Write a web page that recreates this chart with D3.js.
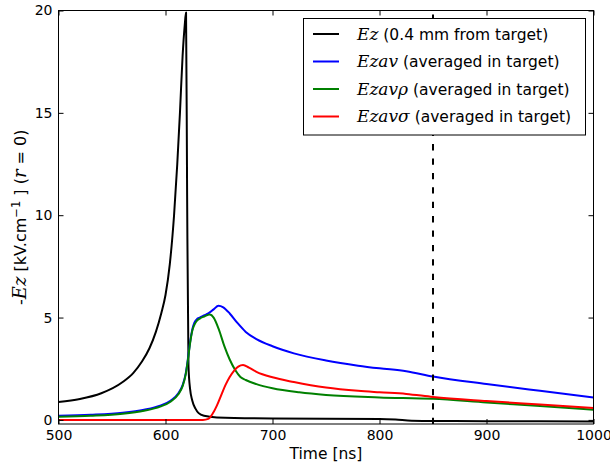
<!DOCTYPE html>
<html>
<head>
<meta charset="utf-8">
<script src="https://cdn.jsdelivr.net/npm/d3@7"></script>
<style>
  html, body { margin: 0; padding: 0; background: #fff; }
  svg { display: block; }
  text { font-family: "DejaVu Sans", sans-serif; fill: #000; }
</style>
</head>
<body>
<svg id="chart" width="610" height="467"></svg>
<script>
// ---- data ----
const ezTime = [500,520,540,560,570,578,585,591,596,600,604,608,611,613.5,616,618,619.2,620.2,621.5,623,625,628,631,636,648,700,800,815,830,850,900,1000];
const ezVals = [0.88,1.02,1.3,1.85,2.3,2.85,3.5,4.3,5.2,6.1,7.6,10.0,12.5,15.0,17.8,19.3,19.9,11,2.6,1.5,0.95,0.55,0.33,0.2,0.12,0.07,0.05,0.02,-0.04,-0.05,-0.06,-0.08];

const ezavTime = [500,530,560,580,595,605,612,616,619,621,623,625,627,629,632,636,640,645,649.5,654,660,667,675,685,700,720,750,780,800,825,850,900,950,1000];
const ezavVals = [0.2,0.25,0.35,0.5,0.7,0.95,1.3,1.7,2.3,3.0,3.8,4.4,4.75,4.9,5.0,5.1,5.2,5.4,5.58,5.5,5.2,4.75,4.3,3.95,3.6,3.25,2.9,2.65,2.52,2.38,2.12,1.75,1.42,1.1];

const ezavRhoTime = [500,530,560,580,595,605,612,616,619,621,623,625,627,629,632,636,641.5,645,650,655,660,665,670,675,685,700,725,750,800,850,900,950,1000];
const ezavRhoVals = [0.15,0.2,0.3,0.45,0.65,0.9,1.25,1.65,2.25,2.95,3.75,4.35,4.65,4.82,4.95,5.05,5.15,5.0,4.4,3.6,2.95,2.45,2.1,1.95,1.75,1.55,1.35,1.22,1.1,1.03,0.85,0.68,0.5];

const ezavSigTime = [500,600,635,640,644,648,652,656,660,664,668,672.5,678,685,700,720,750,780,800,825,850,900,950,1000];
const ezavSigVals = [0,0,0,0.05,0.3,0.7,1.2,1.7,2.1,2.4,2.6,2.68,2.55,2.35,2.08,1.85,1.58,1.42,1.35,1.27,1.12,0.92,0.75,0.58];

const markerTime = 850;

const xTicks = [500,600,700,800,900,1000];
const xTickLabels = ["500","600","700","800","900","1000"];
const yTicks = [0,5,10,15,20];
const yTickLabels = ["0","5","10","15","20"];

const legendMath = ["Ez","Ezav","Ezav\u03c1","Ezav\u03c3"];
const legendText = [" (0.4 mm from target)"," (averaged in target)"," (averaged in target)"," (averaged in target)"];
const seriesColors = ["#000000","#0000ff","#008000","#ff0000"];

// ---- layout ----
const svg = d3.select("#chart");
const L = 58.5, T = 10.5, R = 593.5, B = 424;
const x = d3.scaleLinear().domain([500,1000]).range([L,R]);
const y = d3.scaleLinear().domain([-0.2,20]).range([B,T]);
const mathFont = "DejaVu Serif";

svg.append("defs").append("clipPath").attr("id","clip")
  .append("rect").attr("x",L).attr("y",T).attr("width",R-L).attr("height",B-T);

const series = [
  {t: ezTime, v: ezVals},
  {t: ezavTime, v: ezavVals},
  {t: ezavRhoTime, v: ezavRhoVals},
  {t: ezavSigTime, v: ezavSigVals}
];

const line = d3.line().x(d=>x(d[0])).y(d=>y(d[1])).curve(d3.curveMonotoneX);
const g = svg.append("g").attr("clip-path","url(#clip)");
series.forEach((s,i)=>{
  g.append("path")
    .datum(s.t.map((t,j)=>[t,s.v[j]]))
    .attr("d", line)
    .attr("fill","none")
    .attr("stroke", seriesColors[i])
    .attr("stroke-width", 2)
    .attr("stroke-linejoin","round");
});

// dashed marker line (drawn bottom to top)
g.append("line")
  .attr("x1", x(markerTime)).attr("x2", x(markerTime))
  .attr("y1", B).attr("y2", T)
  .attr("stroke","#000").attr("stroke-width",2)
  .attr("stroke-dasharray","6.3,8.1");

// axes
const xAxis = d3.axisBottom(x).tickValues(xTicks).tickFormat((d,i)=>xTickLabels[i]).tickSize(-5).tickPadding(6);
const xAxisTop = d3.axisTop(x).tickValues(xTicks).tickFormat("").tickSize(-5);
const yAxis = d3.axisLeft(y).tickValues(yTicks).tickFormat((d,i)=>yTickLabels[i]).tickSize(-5).tickPadding(6);
const yAxisRight = d3.axisRight(y).tickValues(yTicks).tickFormat("").tickSize(-5);

function styleAxis(sel){
  sel.select(".domain").remove();
  sel.selectAll("line").attr("stroke","#000").attr("stroke-width",1);
  sel.selectAll("text").attr("font-size",14).attr("font-family","DejaVu Sans").attr("fill","#000");
}
svg.append("g").attr("transform",`translate(0,${B})`).call(xAxis).call(styleAxis);
svg.append("g").attr("transform",`translate(0,${T})`).call(xAxisTop).call(styleAxis);
svg.append("g").attr("transform",`translate(${L},0)`).call(yAxis).call(styleAxis);
svg.append("g").attr("transform",`translate(${R},0)`).call(yAxisRight).call(styleAxis);

// frame
svg.append("rect").attr("x",L).attr("y",T).attr("width",R-L).attr("height",B-T)
  .attr("fill","none").attr("stroke","#000").attr("stroke-width",1);

// axis labels
svg.append("text").attr("x",(L+R)/2).attr("y",459).attr("text-anchor","middle")
  .attr("font-size",15.5).text("Time [ns]");

const yl = svg.append("text")
  .attr("transform",`translate(26,${(T+B)/2}) rotate(-90)`)
  .attr("text-anchor","middle").attr("font-size",16);
yl.append("tspan").text("-");
yl.append("tspan").attr("font-family",mathFont).attr("font-style","italic").attr("font-size",18).text("Ez");
yl.append("tspan").text(" [kV.cm");
yl.append("tspan").attr("font-size",11.5).attr("dy",-6).text("\u22121");
yl.append("tspan").attr("dy",6).text(" ] (");
yl.append("tspan").attr("font-family",mathFont).attr("font-style","italic").attr("font-size",18).text("r");
yl.append("tspan").text(" = 0)");

// legend
const lg = svg.append("g");
lg.append("rect").attr("x",303.5).attr("y",18.5).attr("width",282).attr("height",116.5)
  .attr("fill","#fff").attr("stroke","#000").attr("stroke-width",1);
const rowY = [34,61.5,89,116.5];
legendMath.forEach((m,i)=>{
  lg.append("line").attr("x1",313).attr("x2",339).attr("y1",rowY[i]).attr("y2",rowY[i])
    .attr("stroke",seriesColors[i]).attr("stroke-width",2);
  const t = lg.append("text").attr("x",357).attr("y",rowY[i]+5.5).attr("font-size",15.5);
  t.append("tspan").attr("font-family",mathFont).attr("font-style","italic").attr("font-size",17).text(m);
  t.append("tspan").text(legendText[i]);
});
</script>
</body>
</html>
